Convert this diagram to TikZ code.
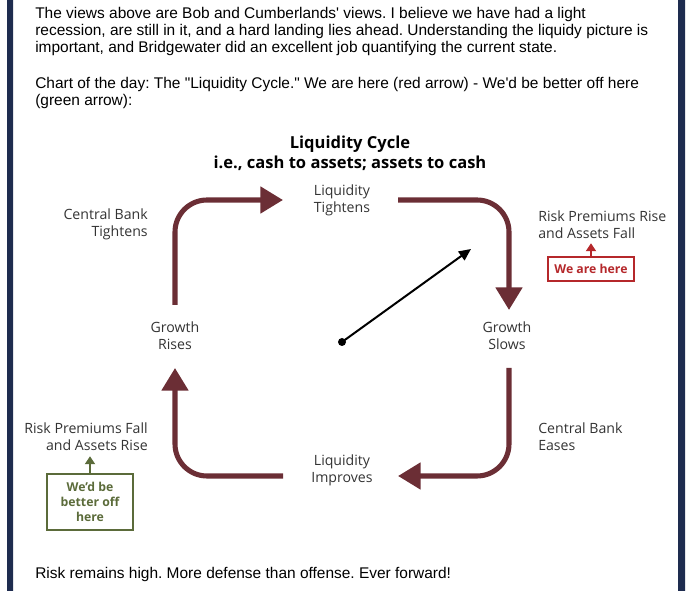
\documentclass[tikz,border=0pt]{standalone}
\usepackage{fontspec}
\setmainfont{Liberation Sans}
\newfontfamily\chartfont{Open Sans}
\usetikzlibrary{arrows.meta}
\frenchspacing
\definecolor{maroon}{HTML}{6B2E35}
\definecolor{navybar}{HTML}{1E2C4F}
\definecolor{herered}{HTML}{B5282B}
\definecolor{heregreen}{HTML}{5B6B3A}
\definecolor{labelgray}{HTML}{333333}
\tikzset{
 body/.style={anchor=north west,inner sep=0pt,align=left,font=\fontsize{11.6}{12.75}\selectfont},
 lbl/.style={inner sep=0pt,text=labelgray,font=\chartfont\fontsize{10.6}{12.75}\selectfont},
 hdr/.style={inner sep=0pt,align=center,font=\chartfont\bfseries\fontsize{12.4}{15}\selectfont},
 cyc/.style={draw=maroon,line width=3.8pt,rounded corners=24pt,-{Triangle[width=19.5pt,length=17pt]}},
 rbox/.style={draw=herered,line width=1.2pt,text=herered,minimum width=64.5pt,minimum height=18pt,inner sep=0pt,
  font=\chartfont\bfseries\fontsize{9.2}{11}\selectfont},
 gbox/.style={draw=heregreen,line width=1.2pt,text=heregreen,minimum width=64.5pt,minimum height=42pt,inner sep=0pt,
  align=center,font=\chartfont\bfseries\fontsize{9.2}{11.25}\selectfont},
 pin/.style={line width=2pt,-{Triangle[width=7.5pt,length=6pt]}}}
\begin{document}
\begin{tikzpicture}[x=0.75pt,y=-0.75pt]
 \useasboundingbox (0,0) rectangle (690,591);
 \fill[navybar] (7,0) rectangle (13,591) (678,0) rectangle (685,591);
 % text of the post
 \node[body] (intro) at (35,7) {The views above are Bob and Cumberlands\textquotesingle{} views. I believe we have had a light\\
  recession, are still in it, and a hard landing lies ahead. Understanding the liquidy picture is\\
  important, and Bridgewater did an excellent job quantifying the current state.};
 \node[body] (chart) at (35,77) {Chart of the day: The \textquotedbl{}Liquidity Cycle.\textquotedbl{} We are here (red arrow) - We\textquotesingle{}d be better off here\\
  (green arrow):};
 \node[body] (outro) at (35,567) {Risk remains high. More defense than offense. Ever forward!};
 % the cycle
 \node[hdr] (title) at (350,153) {Liquidity Cycle\\i.e., cash to assets; assets to cash};
 \node[lbl,align=center] (tight) at (342,200.5) {Liquidity\\Tightens};
 \node[lbl,align=center] (rises) at (175,335.5) {Growth\\Rises};
 \node[lbl,align=center] (slows) at (507,335.5) {Growth\\Slows};
 \node[lbl,align=center] (impr) at (342,470.5) {Liquidity\\Improves};
 \node[lbl,align=right,anchor=east] (cbt) at (148,224.5) {Central Bank\\Tightens};
 \node[lbl,align=left,anchor=west] (rrf) at (538,224.5) {Risk Premiums Rise\\and Assets Fall};
 \node[lbl,align=left,anchor=west] (cbe) at (538,436.5) {Central Bank\\Eases};
 \node[lbl,align=right,anchor=east] (rfr) at (148,437) {Risk Premiums Fall\\and Assets Rise};
 \coordinate (tl0) at (175,305); \coordinate (tl1) at (283,200);
 \coordinate (tr0) at (398,200); \coordinate (tr1) at (509,310);
 \coordinate (br0) at (509,368); \coordinate (br1) at (398,476);
 \coordinate (bl0) at (283,476); \coordinate (bl1) at (175,368);
 \draw[cyc] (tl0) |- (tl1);
 \draw[cyc] (tr0) -| (tr1);
 \draw[cyc] (br0) |- (br1);
 \draw[cyc] (bl0) -| (bl1);
 % where we are
 \node[circle,fill=black,inner sep=0pt,minimum size=6pt] (now) at (342,342) {};
 \coordinate (aim) at (471,249);
 \draw[line width=1.5pt,-{Triangle[width=8pt,length=9pt]}] (now.center) -- (aim);
 \node[rbox] (here) at (591,269) {We are here};
 \draw[pin,herered] (here.north) -- ++(0,-13);
 \node[gbox] (better) at (90,502) {We’d be\\better off\\here};
 \draw[pin,heregreen] (better.north) -- ++(0,-17);
\end{tikzpicture}
\end{document}
